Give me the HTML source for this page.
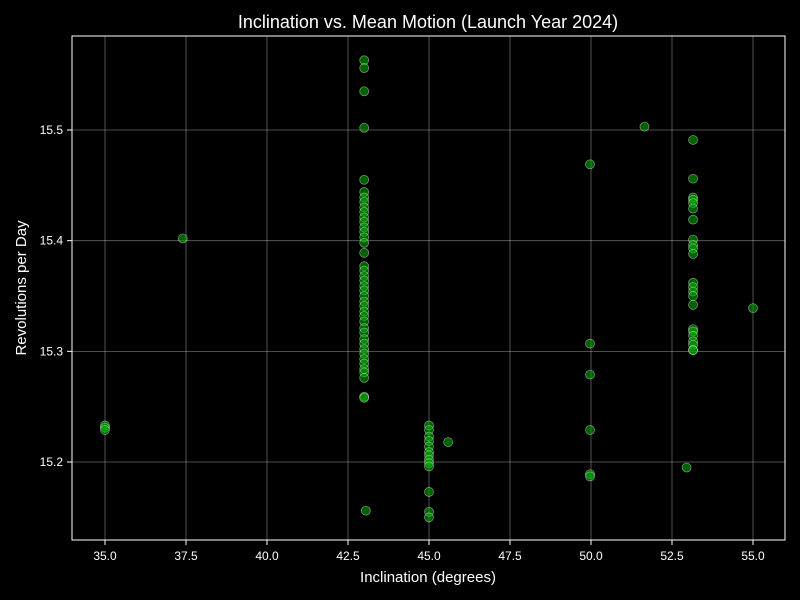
<!DOCTYPE html>
<html><head><meta charset="utf-8"><style>
html,body{margin:0;padding:0;background:#000;}
svg{display:block;font-family:"Liberation Sans",sans-serif;}
</style></head><body>
<svg id="chart" width="800" height="600">
<rect width="800" height="600" fill="#000"/>
<g id="grid"></g>
<g id="pts"></g>
<rect x="72" y="36" width="713" height="504" fill="none" stroke="#fff" stroke-width="1"/>
<g id="ticks"></g>
<text x="428" y="28" fill="#fff" font-size="18" text-anchor="middle">Inclination vs. Mean Motion (Launch Year 2024)</text>
<text x="428" y="582" fill="#fff" font-size="15" text-anchor="middle">Inclination (degrees)</text>
<text x="26" y="288" fill="#fff" font-size="15" text-anchor="middle" transform="rotate(-90 26 288)">Revolutions per Day</text>
</svg>
<script>
const xTicks=[35.0,37.5,40.0,42.5,45.0,47.5,50.0,52.5,55.0];
const yTicks=[15.2,15.3,15.4,15.5];
const incl=[35,35,35,37.4,
43,43,43,43,43,43,43,43,43,43,43,43,43,43,43,43,43,43,43,43,43,43,43,43,43,43,43,43,43,43,43,43,43,43,43,43,43,43,43,43,43,43,43.05,
45,45,45,45,45,45,45,45,45,45,45,45,45,45.59,
49.97,49.97,49.97,49.97,49.97,49.97,51.65,
53.15,53.15,53.15,53.15,53.15,53.15,53.15,53.15,53.15,53.15,53.15,53.15,53.15,53.15,53.15,53.15,53.15,53.15,53.15,53.15,53.15,53.15,53.15,
52.95,55.0];
const revs=[15.233,15.231,15.229,15.402,
15.563,15.556,15.535,15.502,15.455,15.444,15.439,15.435,15.430,15.426,15.421,15.417,15.412,15.408,15.403,15.398,15.389,15.377,15.373,15.368,15.364,15.359,15.355,15.350,15.345,15.341,15.336,15.332,15.327,15.321,15.317,15.311,15.307,15.302,15.298,15.293,15.289,15.284,15.281,15.276,15.259,15.258,15.156,
15.233,15.229,15.223,15.219,15.214,15.209,15.206,15.202,15.199,15.196,15.173,15.155,15.150,15.218,
15.469,15.307,15.279,15.229,15.189,15.187,15.503,
15.491,15.456,15.439,15.437,15.434,15.429,15.419,15.401,15.396,15.393,15.388,15.362,15.358,15.354,15.350,15.342,15.320,15.318,15.314,15.309,15.306,15.301,15.301,
15.195,15.339];
const NS="http://www.w3.org/2000/svg";
const X=v=>105+(v-35)*32.4;
const Y=v=>130+(15.5-v)*1106.7;
const grid=document.getElementById('grid'),ticks=document.getElementById('ticks'),pts=document.getElementById('pts');
function mk(tag,at,parent){const e=document.createElementNS(NS,tag);for(const k in at)e.setAttribute(k,at[k]);parent.appendChild(e);return e;}
xTicks.forEach(t=>{const x=X(t);
 const g=mk('line',{x1:x,x2:x,y1:36,y2:540,stroke:'#fff','stroke-opacity':0.4,'stroke-width':0.8},grid);
 
 
 const tk=mk('line',{x1:x,x2:x,y1:540,y2:545,stroke:'#fff'},ticks);
 
 
 const tx=mk('text',{x:x,y:560,fill:'#fff','font-size':12,'text-anchor':'middle'},ticks);
 tx.textContent=t.toFixed(1);
 
 
});
yTicks.forEach(t=>{const y=Y(t);
 const g=mk('line',{x1:72,x2:785,y1:y,y2:y,stroke:'#fff','stroke-opacity':0.4,'stroke-width':0.8},grid);
 
 
 const tk=mk('line',{x1:67,x2:72,y1:y,y2:y,stroke:'#fff'},ticks);
 
 
 const tx=mk('text',{x:63,y:y+4,fill:'#fff','font-size':12,'text-anchor':'end'},ticks);
 tx.textContent=t.toFixed(1);
 
 
});
incl.forEach((v,i)=>{
 const c=mk('circle',{cx:X(v),cy:Y(revs[i]),r:4.5,fill:'#00b000','fill-opacity':0.55,stroke:'#fff','stroke-opacity':0.5,'stroke-width':0.7},pts);
 
 
});
</script>
</body></html>
